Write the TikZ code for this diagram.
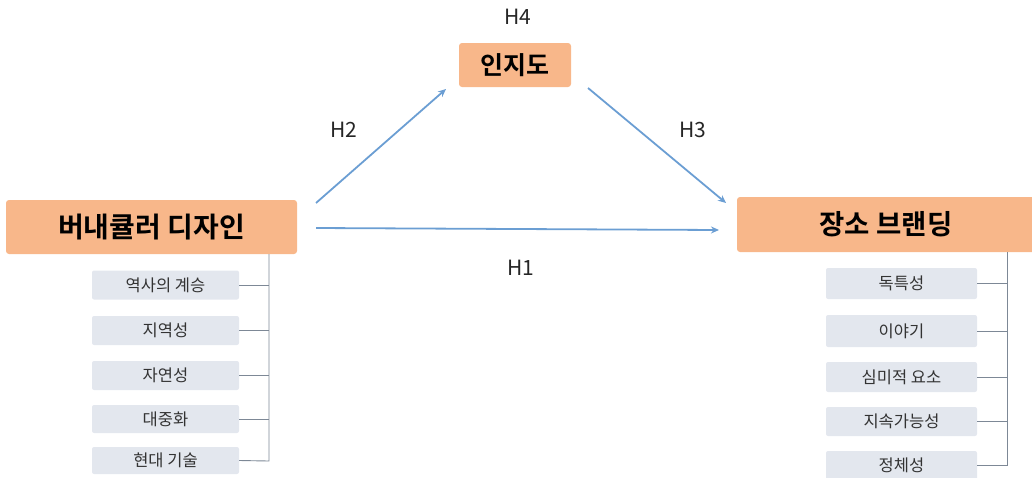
\documentclass[tikz,border=0pt]{standalone}
\usepackage{fontspec}
\setmainfont{Noto Sans CJK KR}
\newfontfamily\krbold{Noto Sans CJK KR Bold}
\usetikzlibrary{arrows.meta}
\definecolor{mainfill}{HTML}{F8B78A}
\definecolor{subfill}{HTML}{E3E7EE}
\definecolor{arrowblue}{HTML}{6B9ED3}
\definecolor{treegray}{HTML}{7D8896}
\tikzset{
  mainbox/.style={fill=mainfill, rounded corners=3pt, inner sep=0pt, font=\krbold\fontsize{28}{30}\selectfont},
  subbox/.style={fill=subfill, rounded corners=2pt, inner sep=0pt, minimum height=29pt, font=\fontsize{16.5}{19}\selectfont, text=black!80},
  hyp/.style={font=\fontsize{21}{23}\selectfont, text=black!85},
  arr/.style={draw=arrowblue, line width=1.8pt, -{Stealth[length=8pt,width=7pt]}},
  tree/.style={draw=treegray, line width=0.9pt}
}
\begin{document}
\begin{tikzpicture}[x=1pt,y=-1pt]
\useasboundingbox (0,0) rectangle (1032,477);
% main boxes
\node[mainbox, minimum width=291pt, minimum height=54pt] (vd) at (151.5,227) {버내큘러 디자인};
\node[mainbox, minimum width=300pt, minimum height=55pt] (pb) at (887,224.5) {};
\node[font=\krbold\fontsize{27.5}{30}\selectfont] (pbt) at (886,224.5) {장소 브랜딩};
\node[mainbox, minimum width=112pt, minimum height=44pt, font=\krbold\fontsize{25}{27}\selectfont] (aw) at (515,65) {인지도};
% hypothesis labels
\node[hyp] (h4) at (518,17) {H4};
\node[hyp] (h2) at (344,130) {H2};
\node[hyp] (h3) at (693,130) {H3};
\node[hyp] (h1) at (521,268) {H1};
% arrows
\coordinate (a2s) at (316,203);
\coordinate (a2e) at (446,89);
\coordinate (a3s) at (588,88);
\coordinate (a3e) at (726,203);
\coordinate (a1s) at (316,228);
\coordinate (a1e) at (719,230);
\draw[arr] (a2s) -- (a2e);
\draw[arr] (a3s) -- (a3e);
\draw[arr] (a1s) -- (a1e);
% left sub boxes
\node[subbox, minimum width=147pt] (l1) at (165.5,285) {역사의 계승};
\node[subbox, minimum width=147pt] (l2) at (165.5,330.5) {지역성};
\node[subbox, minimum width=147pt] (l3) at (165.5,375.5) {자연성};
\node[subbox, minimum width=147pt, minimum height=28pt] (l4) at (165.5,419) {대중화};
\node[subbox, minimum width=147pt, minimum height=27pt] (l5) at (165.5,460.5) {현대 기술};
\coordinate (lt) at (269,254);
\coordinate (lb) at (269,461);
\draw[tree] (lt) -- (lb) -- (l5.east);
\foreach \n in {l1,l2,l3,l4} \draw[tree] (\n.east) -- (\n.east -| lt);
% right sub boxes
\node[subbox, minimum width=151pt, minimum height=31pt] (r1) at (901.5,283.5) {독특성};
\node[subbox, minimum width=151pt, minimum height=32pt] (r2) at (901.5,331) {이야기};
\node[subbox, minimum width=151pt, minimum height=30pt] (r3) at (901.5,377) {심미적 요소};
\node[subbox, minimum width=151pt, minimum height=29pt] (r4) at (901.5,421.5) {지속가능성};
\node[subbox, minimum width=151pt, minimum height=29pt] (r5) at (901.5,465.5) {정체성};
\coordinate (rt) at (1007,252);
\coordinate (rb) at (1007,465.5);
\draw[tree] (rt) -- (rb) -- (r5.east);
\foreach \n in {r1,r2,r3,r4} \draw[tree] (\n.east) -- (\n.east -| rt);
\end{tikzpicture}
\end{document}
